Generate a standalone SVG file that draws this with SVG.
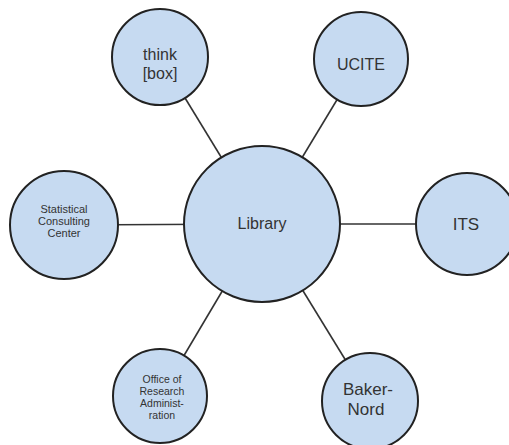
<svg xmlns="http://www.w3.org/2000/svg" width="509" height="445" viewBox="0 0 509 445">
<style>
.n{fill:#c6daf1;stroke:#222;stroke-width:2}
.t{font-family:"Liberation Sans",Arial,sans-serif;fill:#333;text-anchor:middle}
.big{font-size:16px}
.sm{font-size:10.5px}
.c{stroke:#333;stroke-width:1.6;fill:none}
</style>
<rect width="509" height="445" fill="#fff"/>
<g id="connectors">
<line class="c" x1="262" y1="224" x2="160" y2="57"/>
<line class="c" x1="262" y1="224" x2="361" y2="60"/>
<line class="c" x1="262" y1="224" x2="64" y2="225"/>
<line class="c" x1="262" y1="224" x2="467" y2="224"/>
<line class="c" x1="262" y1="224" x2="160" y2="396"/>
<line class="c" x1="262" y1="224" x2="370" y2="400"/>
</g>
<g id="library">
<circle class="n" cx="262" cy="224" r="78"/>
<text class="t big" x="262" y="229">Library</text>
</g>
<g id="thinkbox">
<circle class="n" cx="160" cy="57" r="48"/>
<text class="t big" x="160" y="60">think</text>
<text class="t big" x="160" y="79">[box]</text>
</g>
<g id="ucite">
<circle class="n" cx="361" cy="59" r="47"/>
<text class="t big" x="361" y="70">UCITE</text>
</g>
<g id="statistical">
<circle class="n" cx="64" cy="225" r="54"/>
<text class="t sm" x="64" y="213" style="font-size:11px">Statistical</text>
<text class="t sm" x="64" y="225" style="font-size:11px">Consulting</text>
<text class="t sm" x="64" y="237" style="font-size:11px">Center</text>
</g>
<g id="its">
<circle class="n" cx="467" cy="224" r="51"/>
<text class="t big" x="466" y="230" style="font-size:17px">ITS</text>
</g>
<g id="ora">
<circle class="n" cx="160" cy="396" r="47"/>
<text class="t sm" x="162" y="383">Office of</text>
<text class="t sm" x="162" y="395">Research</text>
<text class="t sm" x="162" y="407">Administ-</text>
<text class="t sm" x="162" y="419">ration</text>
</g>
<g id="bakernord">
<circle class="n" cx="370" cy="401" r="48"/>
<text class="t big" x="368" y="395" style="font-size:17px">Baker-</text>
<text class="t big" x="366" y="415" style="font-size:17px">Nord</text>
</g>
</svg>
